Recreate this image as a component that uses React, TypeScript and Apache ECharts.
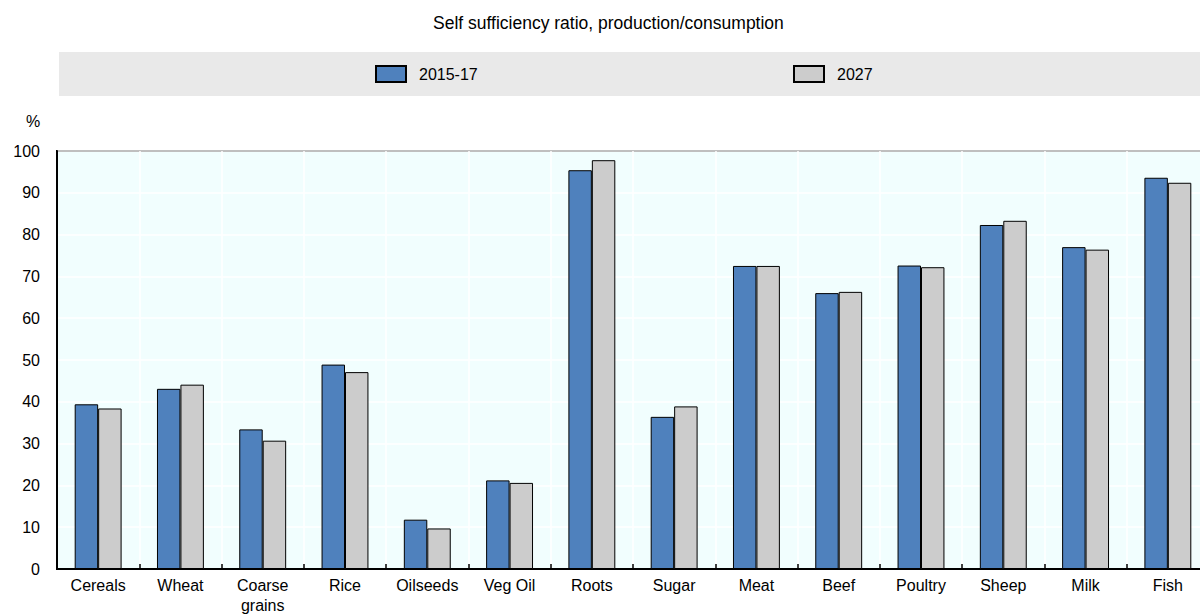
import React, { useEffect, useRef } from "react";
import * as echarts from "echarts";

const categories = ["Cereals", "Wheat", "Coarse\ngrains", "Rice", "Oilseeds", "Veg Oil", "Roots", "Sugar", "Meat", "Beef", "Poultry", "Sheep", "Milk", "Fish"];
const values2015 = [39.4, 43.1, 33.4, 48.9, 11.8, 21.2, 95.4, 36.4, 72.5, 66.0, 72.6, 82.3, 77.0, 93.6];
const values2027 = [38.4, 44.1, 30.7, 47.1, 9.7, 20.6, 97.8, 38.9, 72.5, 66.3, 72.2, 83.3, 76.4, 92.4];
const seriesNames = ["2015-17", "2027"];
const titleText = "Self sufficiency ratio, production/consumption";
const unitLabel = "%";

const FONT = "'Liberation Sans', Arial, sans-serif";
const FS = 16;

export default function App() {
  const ref = useRef<HTMLDivElement>(null);
  useEffect(() => {
    if (!ref.current) return;
    const chart = echarts.init(ref.current, null, { renderer: "svg" });
    const legendText = { fontFamily: FONT, fontSize: FS, color: "#000", padding: [0, 0, 0, 8] };
    chart.setOption({
      animation: false,
      backgroundColor: "#ffffff",
      textStyle: { fontFamily: FONT },
      title: {
        text: titleText,
        left: 428,
        top: 9,
        textStyle: { fontFamily: FONT, fontSize: 17.5, fontWeight: "normal", color: "#000" },
      },
      graphic: [
        { type: "rect", z: -1, shape: { x: 59, y: 52, width: 1141, height: 44 }, style: { fill: "#E9E9E9" } },
        { type: "text", x: 26, y: 113, style: { text: unitLabel, fontFamily: FONT, fontSize: FS, fill: "#000" } },
      ],
      legend: [
        {
          data: [seriesNames[0]],
          icon: "rect",
          left: 370,
          top: 60,
          itemWidth: 30,
          itemHeight: 16,
          textStyle: legendText,
        },
        {
          data: [seriesNames[1]],
          icon: "rect",
          left: 788,
          top: 60,
          itemWidth: 30,
          itemHeight: 16,
          textStyle: legendText,
        },
      ],
      grid: {
        left: 57,
        top: 151,
        width: 1152,
        height: 418,
        outerBoundsMode: "none",
        containLabel: false,
        show: true,
        backgroundColor: "#F1FEFE",
        borderColor: "#000",
        borderWidth: 2,
      },
      xAxis: {
        type: "category",
        data: categories,
        boundaryGap: true,
        axisLine: { show: true, lineStyle: { color: "#000", width: 2 } },
        axisTick: { show: true, inside: true, length: 5, interval: 0, lineStyle: { color: "#000", width: 1.5 } },
        splitLine: { show: true, interval: 0, lineStyle: { color: "#ffffff", width: 1.5 } },
        axisLabel: { interval: 0, fontFamily: FONT, fontSize: FS, color: "#000", margin: 6, lineHeight: 20 },
      },
      yAxis: {
        type: "value",
        min: 0,
        max: 100,
        interval: 10,
        axisLine: { show: true, lineStyle: { color: "#000", width: 2 } },
        axisTick: { show: false },
        splitLine: { show: true, lineStyle: { color: "#ffffff", width: 1.5 } },
        axisLabel: { fontFamily: FONT, fontSize: FS, color: "#000", margin: 17 },
      },
      series: [
        {
          name: seriesNames[0],
          type: "bar",
          data: values2015,
          barWidth: "28.5%",
          barGap: "0%",
          itemStyle: { color: "#4F81BD", borderColor: "#000", borderWidth: 1 },
        },
        {
          name: seriesNames[1],
          type: "bar",
          data: values2027,
          barWidth: "28.5%",
          barGap: "0%",
          itemStyle: { color: "#CCCCCC", borderColor: "#000", borderWidth: 1 },
        },
      ],
    });
    return () => chart.dispose();
  }, []);
  return (
    <div
      ref={ref}
      style={{ position: "fixed", left: 0, top: 0, width: 1200, height: 615 }}
    />
  );
}
